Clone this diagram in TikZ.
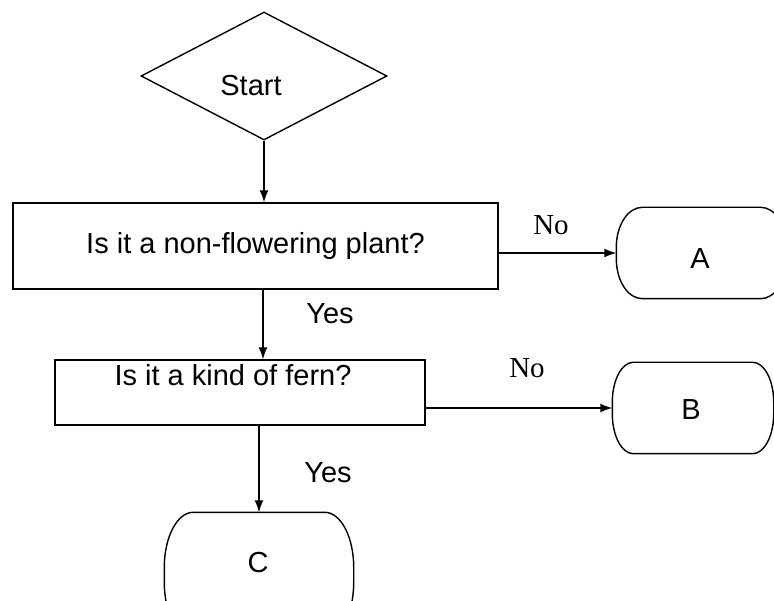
\documentclass[tikz,border=0pt]{standalone}
\usepackage{fontspec}
\setmainfont{Liberation Sans}
\newfontfamily\seriffont{Liberation Serif}
\usetikzlibrary{shapes.geometric,arrows.meta}
\newcommand\termoutline[3]{%
  \draw ([xshift=#2]#1.north west) -- ([xshift=-#2]#1.north east)
    arc[start angle=90,end angle=0,x radius=#2,y radius=#3]
    -- ([yshift=#3]#1.south east)
    arc[start angle=0,end angle=-90,x radius=#2,y radius=#3]
    -- ([xshift=#2]#1.south west)
    arc[start angle=270,end angle=180,x radius=#2,y radius=#3]
    -- ([yshift=-#3]#1.north west)
    arc[start angle=180,end angle=90,x radius=#2,y radius=#3]
    -- cycle;}
\begin{document}
\begin{tikzpicture}[x=1pt,y=-1pt,
  line width=1.4pt,
  decision/.style={diamond,draw,inner sep=0pt,minimum width=246pt,minimum height=128pt},
  procbox/.style={rectangle,draw,inner sep=0pt},
  termbox/.style={rectangle,inner sep=0pt},
  txt/.style={inner sep=0pt,font=\fontsize{29}{34}\selectfont},
  notxt/.style={inner sep=0pt,font=\seriffont\fontsize{29}{34}\selectfont},
  arr/.style={-{Latex[length=12pt,width=9pt]}}]
\useasboundingbox (0,0) rectangle (774,601);
% shapes
\node[decision] (start) at (264,76) {};
\node[txt] (starttext) at (251,86) {Start};
\node[procbox,minimum width=485pt,minimum height=86pt,txt] (q1) at (255.5,246) {Is it a non-flowering plant?};
\node[procbox,minimum width=370pt,minimum height=65pt] (q2) at (240,392.5) {};
\node[txt] (q2text) at (233,375) {Is it a kind of fern?};
\node[termbox,minimum width=169pt,minimum height=90pt] (A) at (701.5,253) {};
\node[txt] (Atext) at (700,259) {A};
\node[termbox,minimum width=160pt,minimum height=90pt] (B) at (693,408) {};
\node[txt] (Btext) at (691,410) {B};
\node[termbox,minimum width=188pt,minimum height=124pt] (C) at (259,575) {};
\node[txt] (Ctext) at (258,563) {C};
\termoutline{A}{26pt}{40pt}
\termoutline{B}{21pt}{40pt}
\termoutline{C}{29pt}{55pt}
% connectors
\coordinate (ycol) at (263,0);
\draw[arr] (start.south) -- (start.south |- q1.north);
\draw[arr] (A.west -| q1.east) -- (A.west);
\draw[arr] (q1.south -| ycol) -- (q2.north -| ycol);
\draw[arr] (B.west -| q2.east) -- (B.west);
\draw[arr] (q2.south -| C.north) -- (C.north);
% labels
\node[notxt] (no1) at (551,225) {No};
\node[notxt] (no2) at (527,368) {No};
\node[txt] (yes1) at (330,314) {Yes};
\node[txt] (yes2) at (328,473) {Yes};
\end{tikzpicture}
\end{document}
